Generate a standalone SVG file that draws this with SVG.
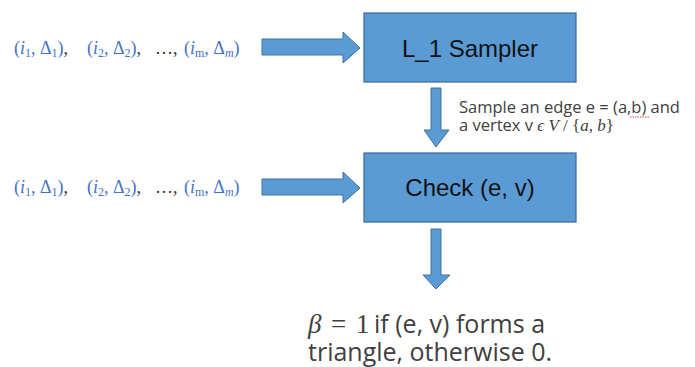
<svg xmlns="http://www.w3.org/2000/svg" width="695" height="367" viewBox="0 0 695 367">
<style>
.box{fill:#5B9BD5;stroke:#41719C;stroke-width:1.3}
.arr{fill:#5B9BD5;stroke:#41719C;stroke-width:1}
.lbl{font-family:"Liberation Sans",Arial,sans-serif;font-size:24px;fill:#111}
.math{font-family:"Liberation Serif","DejaVu Serif",serif;font-size:18px;fill:#4472C4}
.sub{font-size:12px}
.sep{fill:#333}
.note{font-family:"Open Sans","Noto Sans",sans-serif;font-size:16.5px;fill:#404040}
.nm{font-family:"Liberation Serif",serif;font-size:17px;fill:#404040}
.big{font-family:"Open Sans","Noto Sans",sans-serif;font-size:25px;fill:#404040}
.bm{font-family:"Liberation Serif",serif;font-size:27px;fill:#404040}
</style>
<rect width="695" height="367" fill="#fff"/>
<g id="input1">
<text class="math" x="14" y="54">(<tspan font-style="italic">i</tspan><tspan class="sub" dy="3">1</tspan><tspan dy="-3">, Δ</tspan><tspan class="sub" dy="3">1</tspan><tspan dy="-3">)</tspan><tspan class="sep">,</tspan></text>
<text class="math" x="87" y="54">(<tspan font-style="italic">i</tspan><tspan class="sub" dy="3">2</tspan><tspan dy="-3">, Δ</tspan><tspan class="sub" dy="3">2</tspan><tspan dy="-3">)</tspan><tspan class="sep">,</tspan></text>
<text class="math sep" x="155" y="54">…,</text>
<text class="math" x="184" y="54">(<tspan font-style="italic">i</tspan><tspan class="sub" dy="3">m</tspan><tspan dy="-3">, Δ</tspan><tspan class="sub" dy="3" font-style="italic">m</tspan><tspan dy="-3">)</tspan></text>
</g>
<g id="input2">
<text class="math" x="14" y="193">(<tspan font-style="italic">i</tspan><tspan class="sub" dy="3">1</tspan><tspan dy="-3">, Δ</tspan><tspan class="sub" dy="3">1</tspan><tspan dy="-3">)</tspan><tspan class="sep">,</tspan></text>
<text class="math" x="87" y="193">(<tspan font-style="italic">i</tspan><tspan class="sub" dy="3">2</tspan><tspan dy="-3">, Δ</tspan><tspan class="sub" dy="3">2</tspan><tspan dy="-3">)</tspan><tspan class="sep">,</tspan></text>
<text class="math sep" x="155" y="193">…,</text>
<text class="math" x="184" y="193">(<tspan font-style="italic">i</tspan><tspan class="sub" dy="3">m</tspan><tspan dy="-3">, Δ</tspan><tspan class="sub" dy="3" font-style="italic">m</tspan><tspan dy="-3">)</tspan></text>
</g>
<g id="sampler">
<rect class="box" x="364" y="13" width="212" height="69"/>
<text class="lbl" x="470" y="57" text-anchor="middle">L_1 Sampler</text>
</g>
<g id="check">
<rect class="box" x="364" y="153" width="212" height="69"/>
<text class="lbl" x="470" y="196" text-anchor="middle">Check (e, v)</text>
</g>
<g id="connectors">
<polygon class="arr" points="262,39 343,39 343,32 360,48 343,63 343,55 262,55"/>
<polygon class="arr" points="262,179 343,179 343,172 360,188 343,203 343,195 262,195"/>
<polygon class="arr" points="431,88 441,88 441,130 449,130 436,147 424,130 431,130"/>
<polygon class="arr" points="431,229 441,229 441,275 450,275 436,289 423,275 431,275"/>
</g>
<g id="edge-label">
<text class="note" x="459" y="113">Sample an edge e = (a,b) and</text>
<line x1="630" y1="117" x2="650" y2="117" stroke="#E04040" stroke-width="1" stroke-dasharray="1.5,1"/>
<text class="note" x="459" y="131">a vertex v <tspan class="nm" font-style="italic">ϵ V</tspan><tspan class="nm"> / </tspan><tspan class="nm" fill="#A0522D">{</tspan><tspan class="nm" font-style="italic">a</tspan><tspan class="nm">, </tspan><tspan class="nm" font-style="italic">b</tspan><tspan class="nm" fill="#A0522D">}</tspan></text>
</g>
<g id="result">
<text class="bm" x="308" y="333" font-style="italic">β</text>
<text class="bm" x="331" y="333">=</text>
<text class="bm" x="356" y="333">1</text>
<text class="big" x="374" y="333">if (e, v) forms a</text>
<text class="big" x="308" y="361">triangle, otherwise 0.</text>
</g>
</svg>
